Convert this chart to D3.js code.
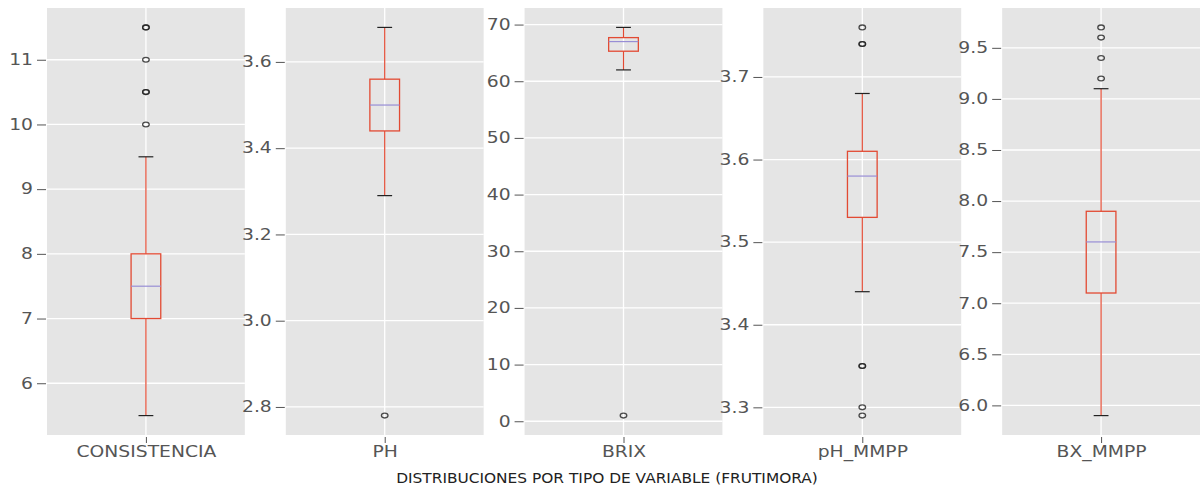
<!DOCTYPE html>
<html>
<head>
<meta charset="utf-8">
<script src="https://cdn.jsdelivr.net/npm/d3@7"></script>
<style>
	body { margin: 0; background: #fff; }
	text { font-family: "DejaVu Sans", sans-serif; }
</style>
</head>
<body>
<div class="chart"></div>
<script>
// BOX PLOTS, ONE PANEL PER VARIABLE
const variables = ['CONSISTENCIA', 'PH', 'BRIX', 'pH_MMPP', 'BX_MMPP'];
const whiskerLow = [5.5, 3.29, 62.0, 3.44, 5.9];
const q1 = [7.0, 3.44, 65.3, 3.53, 7.1];
const median = [7.5, 3.50, 67.0, 3.58, 7.6];
const q3 = [8.0, 3.56, 67.7, 3.61, 7.9];
const whiskerHigh = [9.5, 3.68, 69.5, 3.68, 9.1];
const outliers = [
	[10.0, 10.5, 10.5, 11.0, 11.5, 11.5],
	[2.78],
	[1.0],
	[3.29, 3.30, 3.35, 3.35, 3.74, 3.74, 3.76],
	[9.2, 9.4, 9.6, 9.7]
];
const yTicks = [
	[6, 7, 8, 9, 10, 11],
	[2.8, 3.0, 3.2, 3.4, 3.6],
	[0, 10, 20, 30, 40, 50, 60, 70],
	[3.3, 3.4, 3.5, 3.6, 3.7],
	[6.0, 6.5, 7.0, 7.5, 8.0, 8.5, 9.0, 9.5]
];
const tickFormats = ['d', '.1f', 'd', '.1f', '.1f'];
const xTitle = 'DISTRIBUCIONES POR TIPO DE VARIABLE (FRUTIMORA)';

const W = 1200, H = 491;
const margin = { top: 8, right: 0, bottom: 56, left: 47 };
const innerH = H - margin.top - margin.bottom;
const sx = 1.25; // text in the picture is stretched horizontally

const svg = d3.select('.chart')
	.append('svg')
		.attr('width', W)
		.attr('height', H);

// panel positions
const panelScale = d3.scaleBand()
	.domain(variables)
	.range([margin.left, W - margin.right])
	.paddingInner(0.1715);
const bw = panelScale.bandwidth();

const data = variables.map((name, i) => ({
	name,
	lo: whiskerLow[i], q1: q1[i], med: median[i], q3: q3[i], hi: whiskerHigh[i],
	out: outliers[i], ticks: yTicks[i], fmt: tickFormats[i]
}));

const panels = svg.selectAll('.panel')
	.data(data)
	.enter()
	.append('g')
		.attr('class', 'panel')
		.attr('transform', d => `translate(${panelScale(d.name)}, ${margin.top})`);

panels.each(function(d) {
	const g = d3.select(this);

	// y range like matplotlib: data extent plus 5% margin
	const all = [d.lo, d.hi].concat(d.out);
	const [mn, mx] = d3.extent(all);
	const pad = (mx - mn) * 0.05;
	const y = d3.scaleLinear()
		.domain([mn - pad, mx + pad])
		.range([innerH, 0]);

	const x = d3.scalePoint()
		.domain([d.name])
		.range([0, bw])
		.padding(0.5);
	const cx = x(d.name);

	// background
	g.append('rect')
		.attr('width', bw)
		.attr('height', innerH)
		.attr('fill', '#e5e5e5');

	// grid
	g.selectAll('.hgrid')
		.data(d.ticks)
		.enter()
		.append('line')
			.attr('x1', 0).attr('x2', bw)
			.attr('y1', t => y(t)).attr('y2', t => y(t))
			.attr('stroke', '#fff')
			.attr('stroke-width', 1.3);
	g.append('line')
		.attr('x1', cx).attr('x2', cx)
		.attr('y1', 0).attr('y2', innerH)
		.attr('stroke', '#fff')
		.attr('stroke-width', 1.3);

	// y axis
	const yAxis = g.append('g')
		.attr('transform', 'translate(-1, 0)')
		.call(d3.axisLeft(y)
			.tickValues(d.ticks)
			.tickFormat(d3.format(d.fmt))
			.tickSize(9)
			.tickPadding(4));
	yAxis.select('.domain').remove();
	yAxis.selectAll('line').attr('stroke', '#555');
	yAxis.selectAll('text')
		.attr('x', null)
		.attr('transform', `translate(-13, 0) scale(${sx}, 1)`)
		.attr('fill', '#555')
		.style('font-size', '15px');

	// x axis
	const xAxis = g.append('g')
		.attr('transform', `translate(0, ${innerH + 2})`)
		.call(d3.axisBottom(x).tickSize(6).tickPadding(3));
	xAxis.select('.domain').remove();
	xAxis.selectAll('line').attr('stroke', '#555');
	xAxis.selectAll('text')
		.attr('x', null)
		.attr('transform', `translate(0, 0) scale(${sx}, 1)`)
		.attr('fill', '#555')
		.style('font-size', '15px');

	const boxW = bw * 0.15;
	const red = '#e24a33';

	// whiskers
	g.append('line')
		.attr('x1', cx).attr('x2', cx)
		.attr('y1', y(d.q3)).attr('y2', y(d.hi))
		.attr('stroke', red).attr('stroke-width', 1.2);
	g.append('line')
		.attr('x1', cx).attr('x2', cx)
		.attr('y1', y(d.q1)).attr('y2', y(d.lo))
		.attr('stroke', red).attr('stroke-width', 1.2);

	// caps
	g.selectAll('.cap')
		.data([d.lo, d.hi])
		.enter()
		.append('line')
			.attr('x1', cx - boxW / 4).attr('x2', cx + boxW / 4)
			.attr('y1', v => y(v)).attr('y2', v => y(v))
			.attr('stroke', '#222').attr('stroke-width', 1.2);

	// box
	g.append('rect')
		.attr('x', cx - boxW / 2)
		.attr('y', y(d.q3))
		.attr('width', boxW)
		.attr('height', y(d.q1) - y(d.q3))
		.attr('fill', 'none')
		.attr('stroke', red)
		.attr('stroke-width', 1.3);

	// median
	g.append('line')
		.attr('x1', cx - boxW / 2).attr('x2', cx + boxW / 2)
		.attr('y1', y(d.med)).attr('y2', y(d.med))
		.attr('stroke', '#988ed5').attr('stroke-width', 1.2);

	// outliers
	g.selectAll('.flier')
		.data(d.out)
		.enter()
		.append('ellipse')
			.attr('class', 'flier')
			.attr('cx', cx)
			.attr('cy', v => y(v))
			.attr('rx', 3.3)
			.attr('ry', 2.4)
			.attr('fill', 'none')
			.attr('stroke', '#222')
			.attr('stroke-opacity', 0.8)
			.attr('stroke-width', 1.3);
});

// overall title under the panels
svg.append('text')
	.attr('transform', 'translate(607, 483) scale(1.14, 1)')
	.attr('text-anchor', 'middle')
	.attr('fill', '#222')
	.style('font-size', '13.5px')
	.text(xTitle);
</script>
</body>
</html>
